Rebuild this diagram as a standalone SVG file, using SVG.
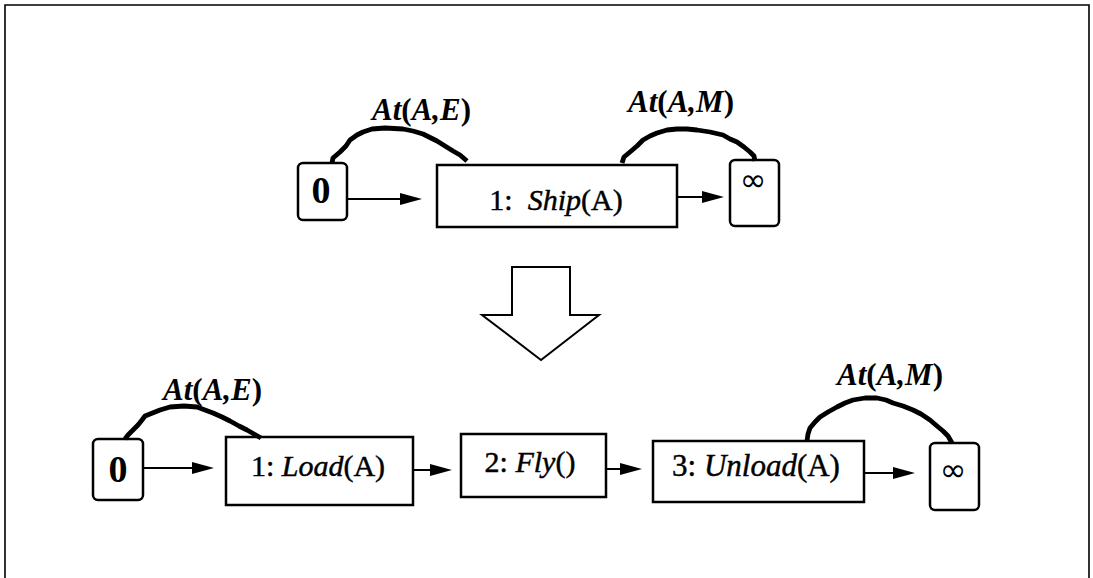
<svg xmlns="http://www.w3.org/2000/svg" width="1093" height="578" viewBox="0 0 1093 578">
<defs>
<style>
.frame{fill:none;stroke:#000;stroke-width:1.6}
.box{fill:#fff;stroke:#000;stroke-width:2.5}
.arr{fill:none;stroke:#000;stroke-width:2}
.head{fill:#000}
.link{fill:none;stroke:#000;stroke-width:4.8;stroke-linecap:butt;stroke-linejoin:round}
.t{font-family:"Liberation Serif","Times New Roman",serif;fill:#000;stroke:#000;stroke-width:0.45;text-anchor:middle}
.lbl{font-family:"Liberation Serif","Times New Roman",serif;font-weight:bold;font-style:italic;font-size:31px;fill:#000}
.up{font-style:normal}
.it{font-family:"Liberation Serif","Times New Roman",serif;font-style:italic;font-weight:normal}
.zero{font-family:"Liberation Serif","Times New Roman",serif;font-weight:bold;font-size:38px;text-anchor:middle}
.inf{font-family:"DejaVu Sans",sans-serif;font-size:32px;text-anchor:middle}
</style>
</defs>
<rect width="1093" height="578" fill="#fff"/>
<path class="frame" d="M5,578 V5 H1089 V578"/>

<g id="top-start">
<rect class="box" x="298" y="163" width="49" height="57" rx="5"/>
<text class="zero" x="321" y="203">0</text>
</g>
<g id="top-ship">
<rect class="box" x="437" y="165" width="240" height="62"/>
<text class="t" x="556" y="210" font-size="30" xml:space="preserve">1:  <tspan class="it">Ship</tspan>(A)</text>
</g>
<g id="top-finish">
<rect class="box" x="730" y="160" width="49" height="66" rx="5"/>
<text class="inf" x="753" y="191">∞</text>
</g>

<g id="refine-arrow">
<polygon points="512,267 570,267 570,315 599,315 541,360 482,315 512,315" fill="#fff" stroke="#000" stroke-width="2"/>
</g>

<g id="bot-start">
<rect class="box" x="93" y="439" width="50" height="61" rx="5"/>
<text class="zero" x="118" y="482">0</text>
</g>
<g id="bot-load">
<rect class="box" x="226" y="437" width="187" height="68"/>
<text class="t" x="318" y="476" font-size="30">1: <tspan class="it">Load</tspan>(A)</text>
</g>
<g id="bot-fly">
<rect class="box" x="461" y="434" width="145" height="63"/>
<text class="t" x="530" y="472" font-size="30">2: <tspan class="it">Fly</tspan>()</text>
</g>
<g id="bot-unload">
<rect class="box" x="653" y="441" width="211" height="61"/>
<text class="t" x="756" y="476" font-size="31">3: <tspan class="it">Unload</tspan>(A)</text>
</g>
<g id="bot-finish">
<rect class="box" x="930" y="443" width="49" height="67" rx="5"/>
<text class="inf" x="953" y="481">∞</text>
</g>

<g id="connectors">
<line class="arr" x1="347" y1="199" x2="402" y2="199"/>
<polygon class="head" points="400,193 422,199 400,205"/>
<line class="arr" x1="677" y1="197" x2="704" y2="197"/>
<polygon class="head" points="702,191 724,197 702,203"/>

<line class="arr" x1="143" y1="468" x2="194" y2="468"/>
<polygon class="head" points="192,462 214,468 192,474"/>
<line class="arr" x1="413" y1="470" x2="432" y2="470"/>
<polygon class="head" points="430,464 452,470 430,476"/>
<line class="arr" x1="606" y1="469" x2="622" y2="469"/>
<polygon class="head" points="620,463 642,469 620,475"/>
<line class="arr" x1="864" y1="473" x2="895" y2="473"/>
<polygon class="head" points="893,467 915,473 893,479"/>

<path class="link" d="M332,163 L333,158 340,152 346,146 350,140 357,135 363,132 372,129 385,128 403,129 413,131 423,134 431,138 437,141 445,146 453,151 460,155 467,161"/>
<path class="link" d="M622,163 L624,157 630,152 637,146 643,140 650,136 657,133 667,130 677,129 687,129 697,130 710,132 723,135 730,139 737,142 744,147 750,152 754,156 755,161"/>
<path class="link" d="M125,439 L128,435 132,431 138,425 142,420 145,416 150,414 160,410 170,407 184,406 197,407 205,410 213,413 222,417 230,421 239,426 247,430 254,434 261,438"/>
<path class="link" d="M807,441 L808,434 810,428 815,422 820,417 828,412 837,407 845,403 853,400 865,398 877,398 886,400 893,403 903,406 913,410 921,414 930,420 937,426 943,431 948,436 952,443"/>

<text class="lbl" x="372" y="120">At<tspan class="up">(</tspan>A,E<tspan class="up">)</tspan></text>
<text class="lbl" x="628" y="112">At<tspan class="up">(</tspan>A,M<tspan class="up">)</tspan></text>
<text class="lbl" x="163" y="400">At<tspan class="up">(</tspan>A,E<tspan class="up">)</tspan></text>
<text class="lbl" x="837" y="385">At<tspan class="up">(</tspan>A,M<tspan class="up">)</tspan></text>
</g>
</svg>
